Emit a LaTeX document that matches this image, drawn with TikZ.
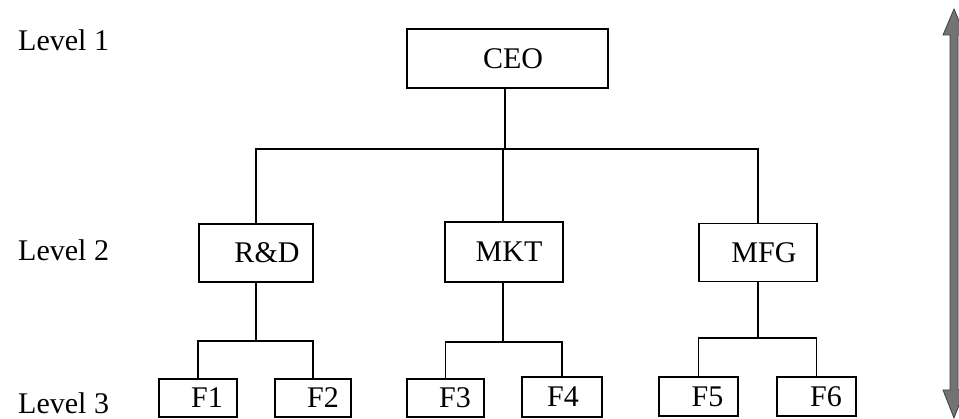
\documentclass[tikz,border=0pt]{standalone}
\usepackage{fontspec}
\setmainfont{Liberation Serif}
\begin{document}
\begin{tikzpicture}[x=1pt,y=-1pt,
  every node/.style={font=\fontsize{30}{34}\selectfont, inner sep=0pt},
  orgbox/.style={draw, line width=1.8pt},
  link/.style={line width=1.5pt},
  levelname/.style={anchor=west}]
\useasboundingbox (0,0) rectangle (959,419);
\clip (0,0) rectangle (959,419);

% level captions
\node[levelname] (lv1) at (18,40)  {Level 1};
\node[levelname] (lv2) at (18,250) {Level 2};
\node[levelname] (lv3) at (18,403) {Level 3};

% top
\node[orgbox, minimum width=201pt, minimum height=59pt] (ceo) at (507.5,58.5) {\hspace*{11pt}CEO};

% departments
\node[orgbox, minimum width=114pt, minimum height=58pt] (rd)  at (256,253)   {\hspace*{22pt}R\&D};
\node[orgbox, minimum width=118pt, minimum height=60pt] (mkt) at (504,252)   {\hspace*{10pt}MKT};
\node[orgbox, minimum width=118pt, minimum height=58pt] (mfg) at (758,252.5) {\hspace*{12pt}MFG};

% functions
\node[orgbox, minimum width=78pt, minimum height=38pt] (f1) at (198,398)   {\hspace*{18pt}F1};
\node[orgbox, minimum width=76pt, minimum height=38pt] (f2) at (313,398)   {\hspace*{20pt}F2};
\node[orgbox, minimum width=77pt, minimum height=38pt] (f3) at (445.5,398) {\hspace*{19pt}F3};
\node[orgbox, minimum width=80pt, minimum height=40pt] (f4) at (562,397)   {\hspace*{2pt}F4};
\node[orgbox, minimum width=79pt, minimum height=39pt] (f5) at (698.5,396.5) {\hspace*{18pt}F5};
\node[orgbox, minimum width=79pt, minimum height=39pt] (f6) at (816.5,396.5) {\hspace*{19pt}F6};

% bus lines
\coordinate (busA) at (505,149);
\coordinate (busR) at (256,341);
\coordinate (busK) at (503,342);
\coordinate (busF) at (758,338);

\draw[link] (ceo.south -| busA) -- (busA);
\draw[link] (busA) -| (rd.north);
\draw[link] (busA) -| (mkt.north -| busK);
\draw[link] (busA) -| (mfg.north);

\draw[link] (rd.south) -- (busR);
\draw[link] (busR) -| (f1.north);
\draw[link] (busR) -| (f2.north);

\draw[link] (mkt.south -| busK) -- (busK);
\draw[link] (busK) -| (f3.north);
\draw[link] (busK) -| (f4.north);

\draw[link] (mfg.south) -- (busF);
\draw[link] (busF) -| (f5.north);
\draw[link] (busF) -| (f6.north);

% double-headed span arrow
\draw[fill=black!55, draw=black!75, line width=0.8pt, line join=miter]
  (954,9) -- (965,35) -- (958,35) -- (958,390) -- (965,390)
  -- (954,418) -- (943,390) -- (950,390) -- (950,35) -- (943,35) -- cycle;
\end{tikzpicture}
\end{document}
